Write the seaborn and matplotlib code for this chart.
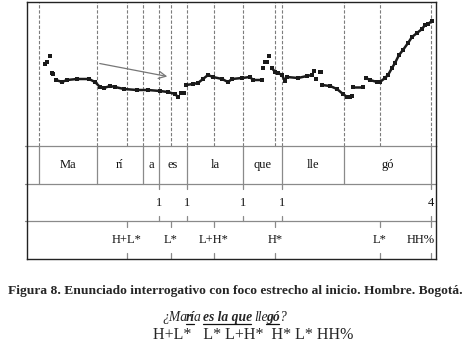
import matplotlib
matplotlib.use("Agg")
import matplotlib.pyplot as plt
import seaborn as sns
import pandas as pd

W, H = 464, 353

# pitch contour: segment id, time (frames from start), pitch height
seg = [1, 1, 2, 3, 3,
       4, 4, 4, 4, 4, 4, 4, 4, 4, 4, 4, 4, 4, 4, 4, 4, 4,
       5, 5,
       6, 6, 6, 6, 6, 6, 6, 6, 6, 6, 6, 6, 6,
       7, 8, 8, 9,
       10, 10, 10, 10, 10,
       11, 11, 11, 11,
       12, 13, 14, 14,
       15, 15, 15, 15, 15, 15, 15,
       16, 16,
       17, 17, 17, 17, 17, 17, 17, 17, 17, 17, 17, 17, 17, 17, 17, 17, 17]
t = [18, 20, 23, 25, 26,
     29, 35, 40, 50, 62, 68, 73, 77, 83, 88, 97, 110, 121, 133, 141, 148, 151,
     154, 157,
     159, 166, 171, 176, 181, 186, 195, 201, 205, 215, 223, 226, 235,
     236, 238, 240, 242,
     245, 248, 251, 255, 258,
     260, 271, 280, 285,
     287, 289, 293, 294,
     295, 303, 310, 316, 320, 323, 325,
     326, 336,
     339, 343, 350, 353, 358, 361, 365, 368, 372, 376, 381, 385, 390, 395, 398, 401, 405]
f0 = [82, 84, 90, 73, 72,
      66, 64, 66, 67, 67, 64, 59, 58, 60, 59, 57, 56, 56, 55, 54, 52, 49,
      53, 53,
      61, 62, 63, 67, 71, 69, 67, 64, 67, 68, 69, 66, 66,
      78, 84, 84, 90,
      78, 74, 73, 71, 65,
      69, 68, 70, 71,
      75, 67, 74, 74,
      61, 60, 57, 52, 49, 49, 50,
      59, 59,
      68, 66, 64, 64, 68, 71, 78, 83, 91, 96, 103, 109, 113, 117, 121, 122, 125]

# annotation tiers
syl_bounds = [12, 70, 116, 132, 160, 216, 255, 317, 404]
syllables = ["Ma", "rí", "a", "es", "la", "que", "lle", "gó"]
brk_pos = [132, 160, 216, 255, 404]
brk_labels = ["1", "1", "1", "1", "4"]
tone_pos = [100, 144, 187, 248, 353, 404]
tone_labels = ["H+L*", "L*", "L+H*", "H*", "L*", "HH%"]

XMAX, YMAX = 409, 144

sns.set_theme(style="white")
plt.rcParams["font.family"] = ["Liberation Serif", "DejaVu Serif"]

df = pd.DataFrame({"seg": seg, "t": t, "f0": f0})

fig = plt.figure(figsize=(W / 100, H / 100), dpi=100)
ax1 = fig.add_axes([27 / W, 1 - 146 / H, 409 / W, 144 / H])
ax2 = fig.add_axes([27 / W, 1 - 259 / H, 409 / W, 113 / H])

gray = "#8a8a8a"
dash_x = sorted(set(syl_bounds + brk_pos + tone_pos))
for x in dash_x:
    ax1.axvline(x, color="#7c7c7c", lw=0.8, ls=(0, (3, 1.6)), zorder=1)

sns.lineplot(data=df, x="t", y="f0", units="seg", estimator=None, sort=False,
             color="#1a1a1a", lw=1.8, ax=ax1, legend=False, zorder=3)
sns.scatterplot(data=df, x="t", y="f0", color="#1a1a1a", marker="s", s=6,
                linewidth=0, ax=ax1, legend=False, zorder=3)

ax1.annotate("", xy=(143, 69), xytext=(70, 83),
             arrowprops=dict(arrowstyle="->", color="#777777", lw=0.9,
                             mutation_scale=13), zorder=4)

ax1.set_xlim(0, XMAX)
ax1.set_ylim(0, YMAX)
ax1.set_xticks([])
ax1.set_yticks([])
ax1.set_xlabel("")
ax1.set_ylabel("")
for s in ["top", "left", "right"]:
    ax1.spines[s].set_color("#222222")
    ax1.spines[s].set_linewidth(1.0)
ax1.spines["bottom"].set_visible(False)

# tiers
ax2.set_xlim(0, XMAX)
ax2.set_ylim(0, 3)
ax2.set_xticks([])
ax2.set_yticks([])
for s in ["bottom", "left", "right"]:
    ax2.spines[s].set_color("#222222")
    ax2.spines[s].set_linewidth(1.0)
ax2.spines["top"].set_visible(False)
for y in [1, 2, 3]:
    ax2.plot([-2, XMAX], [y, y], color=gray, lw=0.9, clip_on=False)

fs = 9
for b in syl_bounds:
    ax2.plot([b, b], [2, 3], color=gray, lw=0.9)
for i, lab in enumerate(syllables):
    ax2.text((syl_bounds[i] + syl_bounds[i + 1]) / 2, 2.5, lab, ha="center",
             va="center", fontsize=fs, color="#111111")

def point_tier(pos, labels, y0):
    for x, lab in zip(pos, labels):
        ax2.plot([x, x], [y0 + 0.86, y0 + 1], color=gray, lw=0.9)
        ax2.plot([x, x], [y0, y0 + 0.15], color=gray, lw=0.9)
        if x > XMAX - 10:
            ax2.text(XMAX - 1.5, y0 + 0.5, lab, ha="right", va="center",
                     fontsize=fs, color="#111111")
        else:
            ax2.text(x, y0 + 0.5, lab, ha="center", va="center",
                     fontsize=fs, color="#111111")

point_tier(brk_pos, brk_labels, 1)
point_tier(tone_pos, tone_labels, 0)

# captions
fig.text(235.5 / W, 1 - 294 / H,
         "Figura 8. Enunciado interrogativo con foco estrecho al inicio. Hombre. Bogotá.",
         ha="center", va="baseline", fontsize=9.7, fontweight="bold")

fig.canvas.draw()
r = fig.canvas.get_renderer()

def width(txt, **kw):
    tt = fig.text(0, 0, txt, **kw)
    w = tt.get_window_extent(r).width
    tt.remove()
    return w

it = dict(fontsize=9.8, style="italic")
bi = dict(fontsize=9.8, style="italic", fontweight="bold")
sp = width("x x", **it) - width("xx", **it)
pieces = [("¿Ma", it, False), ("rí", bi, True), ("a", it, False), (" ", it, False),
          ("es la que", bi, True), (" ", it, False), ("lle", it, False),
          ("gó", bi, True), ("?", it, False)]
x = 162.0
base = 321.0
for txt, kw, ul in pieces:
    if txt == " ":
        x += sp
        continue
    w = width(txt, **kw)
    fig.text(x / W, 1 - base / H, txt, ha="left", va="baseline", **kw)
    if ul:
        fig.lines.append(plt.Line2D([x / W, (x + w - 1) / W], [1 - (base + 2.5) / H] * 2,
                                    transform=fig.transFigure, color="#111111", lw=0.9))
    x += w - 1.2

fig.text(153 / W, 1 - 339 / H, "H+L*   L* L+H*  H* L* HH%", ha="left",
         va="baseline", fontsize=11.5)

fig.savefig("out.png", dpi=100, facecolor="white")
